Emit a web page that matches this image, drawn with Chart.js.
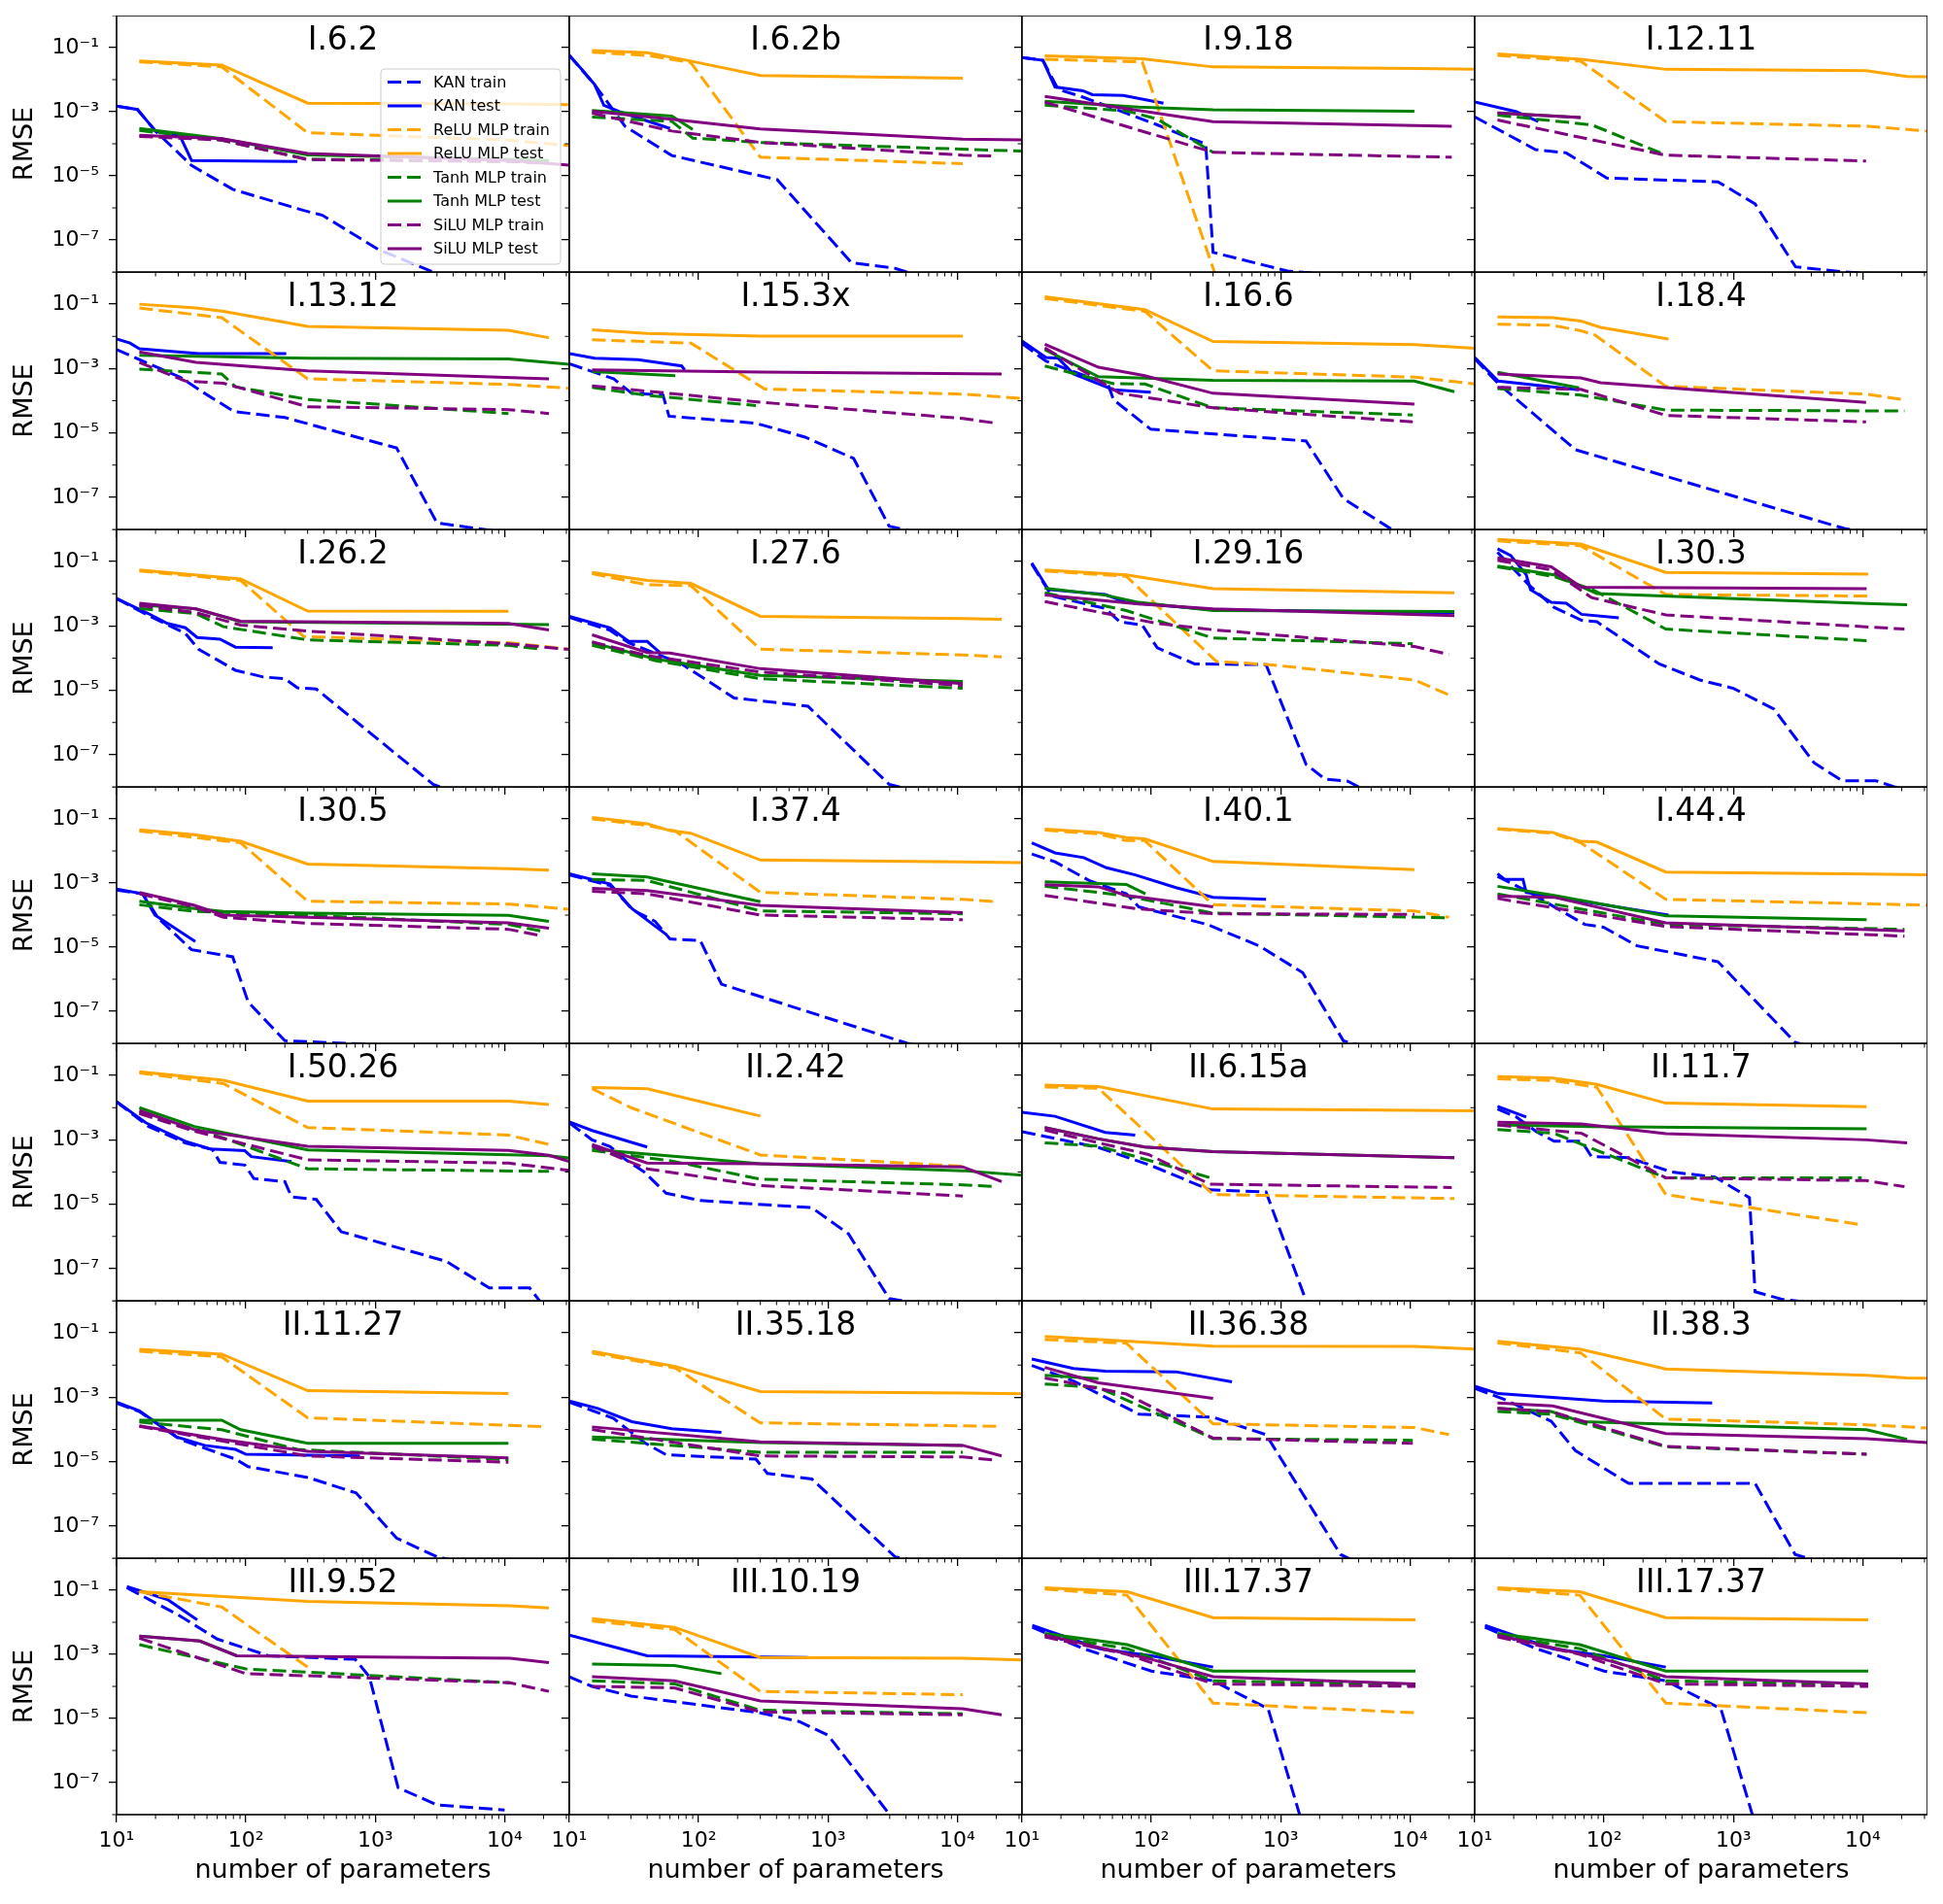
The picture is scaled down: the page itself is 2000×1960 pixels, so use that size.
<!DOCTYPE html>
<html lang="en">
<head>
<meta charset="UTF-8" />
<title>RMSE vs number of parameters</title>
<script src="https://cdn.jsdelivr.net/npm/chart.js"></script>
<style>
  body { margin: 0; background: #ffffff; }
  #wrap { position: relative; width: 2000px; height: 1960px; }
  #wrap canvas { position: absolute; }
</style>
</head>
<body>
<div id="wrap"></div>
<script>
// panel titles, row by row
const titles = [
  "I.6.2", "I.6.2b", "I.9.18", "I.12.11",
  "I.13.12", "I.15.3x", "I.16.6", "I.18.4",
  "I.26.2", "I.27.6", "I.29.16", "I.30.3",
  "I.30.5", "I.37.4", "I.40.1", "I.44.4",
  "I.50.26", "II.2.42", "II.6.15a", "II.11.7",
  "II.11.27", "II.35.18", "II.36.38", "II.38.3",
  "III.9.52", "III.10.19", "III.17.37", "III.17.37"
];

// each series: one list of [parameters, RMSE] per panel
const kanTrain = [
  [[10,1.5e-3],[14.5,1.17e-3],[20,2.5e-4],[38,2.1e-5],[79,3.8e-6],[280,8.3e-7],[390,5.9e-7],[1050,5.1e-8],[2800,1e-8],[5000,3e-9]],
  [[10,5.7e-2],[15.7,7e-3],[27,3.5e-4],[62,4.3e-5],[405,7.6e-6],[1520,1.95e-8],[3300,1.3e-8],[6000,6e-9]],
  [[10,4.9e-2],[14.5,4e-2],[19,5e-3],[30,2.8e-3],[111,3.9e-4],[193,1.55e-4],[263,1e-4],[300,4.1e-8],[1130,1.07e-8],[3000,8e-9]],
  [[10,6.9e-4],[29.5,6.6e-5],[51,5.2e-5],[105,8.5e-6],[760,6.5e-6],[1470,1.33e-6],[3020,1.45e-8],[7300,1e-8],[3e4,7e-9]],
  [[10,3.9e-3],[15.9,1.7e-3],[31,5.4e-4],[48,1.7e-4],[81,4.6e-5],[200,3e-5],[1460,3.4e-6],[3000,1.6e-8],[6900,1e-8],[2e4,6e-9]],
  [[10,1.4e-3],[22,4.8e-4],[30.4,1.7e-4],[53,1.5e-4],[59,3.3e-5],[277,2e-5],[665,7.4e-6],[1580,1.6e-6],[2970,1.26e-8],[5000,8e-9]],
  [[10,6e-3],[15.3,1.7e-3],[24,8.5e-4],[46,3.4e-4],[51,1.07e-4],[99,1.3e-5],[1570,5.6e-6],[3050,9.1e-8],[6950,1.1e-8],[1.2e4,6e-9]],
  [[10,2e-3],[15.2,3.4e-4],[60,3e-6],[7300,1.05e-8],[1.5e4,7e-9]],
  [[10,7.1e-3],[17.7,2.1e-3],[34,5.9e-4],[43,1.9e-4],[83,4.2e-5],[136,2.6e-5],[200,2.3e-5],[250,1.2e-5],[350,1.1e-5],[2800,1.2e-8],[4000,7e-9]],
  [[10,1.85e-3],[20.7,7.3e-4],[28.8,3e-4],[74,6.6e-5],[188,5.8e-6],[700,3.2e-6],[2970,1.2e-8],[5000,7e-9]],
  [[11.9,8.3e-2],[17,8.5e-3],[44,3.5e-3],[57,1.35e-3],[85,1.07e-3],[111,2.1e-4],[216,6.6e-5],[770,6.3e-5],[1570,5e-8],[2200,1.75e-8],[3300,1.5e-8],[4000,1e-8],[6000,7e-9]],
  [[15,0.195],[26,1.95e-2],[41,3.8e-3],[67,1.5e-3],[88,1.35e-3],[130,4.7e-4],[267,6.6e-5],[550,2.1e-5],[1000,1.15e-5],[2060,2.6e-6],[4200,5.6e-8],[6900,1.55e-8],[1.26e4,1.55e-8],[1.75e4,1e-8],[3e4,7e-9]],
  [[10,6e-4],[15.9,4.6e-4],[21,8e-5],[38,8.3e-6],[79,5e-6],[104,1.95e-7],[200,1.2e-8],[600,1e-8],[2000,8e-9]],
  [[10,1.8e-3],[20.7,8.3e-4],[31,1.45e-4],[46,6.4e-5],[60,1.8e-5],[103,1.6e-5],[150,7e-7],[4100,1e-8],[8000,6e-9]],
  [[11.9,8e-3],[18,4.6e-3],[33,1.2e-3],[64,4.6e-4],[80,1.8e-4],[270,5.1e-5],[680,1.1e-5],[1480,1.6e-6],[3050,1.2e-8],[5000,7e-9]],
  [[15,1.6e-3],[25,5.8e-4],[71,5.1e-5],[99,4.2e-5],[180,1.1e-5],[760,3.5e-6],[3000,1.07e-8],[5000,6e-9]],
  [[10,1.5e-2],[17.7,2.6e-3],[34,8e-4],[55,5e-4],[63,2e-4],[98,1.65e-4],[115,6.3e-5],[200,5e-5],[225,1.7e-5],[350,1.4e-5],[545,1.4e-6],[3500,1.7e-7],[3700,1.5e-7],[7600,2.5e-8],[1.56e4,2.5e-8],[1.9e4,9e-9]],
  [[10,3.4e-3],[15,1e-3],[20.7,6.2e-4],[27,2.5e-4],[38,1e-4],[56,2.2e-5],[103,1.3e-5],[750,7.8e-6],[1440,1.2e-6],[2970,1.17e-8],[8000,6e-9]],
  [[10,1.8e-3],[39,5.8e-4],[99,1.6e-4],[283,2.8e-5],[770,2.4e-5],[1570,1e-8]],
  [[15,9.1e-3],[21,5.1e-3],[30,1.8e-3],[41,9.1e-4],[67,9.1e-4],[80,3e-4],[155,2.8e-4],[333,1e-4],[720,7e-5],[1330,1.6e-5],[1470,1.9e-8],[2400,1.1e-8],[5000,8e-9]],
  [[10,6.6e-4],[15,3.6e-4],[31,4.9e-5],[83,1.2e-5],[104,7e-6],[302,3.2e-6],[710,1.07e-6],[1460,4.2e-8],[3000,1.1e-8],[5000,7e-9]],
  [[10,7.1e-4],[22,2.2e-4],[38,3.9e-5],[56,1.65e-5],[277,1.2e-5],[340,4.3e-6],[750,2.9e-6],[3300,1.1e-8],[6000,7e-9]],
  [[11.9,9.8e-3],[25,3.2e-3],[80,3e-4],[300,2.4e-4],[770,6.9e-5],[2900,1.3e-8],[4000,7e-9]],
  [[10,1.9e-3],[16.6,8.9e-4],[39,1.8e-4],[60,2.2e-5],[155,2.1e-6],[1470,2.1e-6],[3000,1.3e-8],[5000,7e-9]],
  [[12,0.12],[20,4e-2],[30,1.7e-2],[60,3e-3],[150,9e-4],[700,7e-4],[900,2e-4],[1500,7e-8],[3000,2e-8],[1e4,1.4e-8]],
  [[10,2e-4],[15,1e-4],[30,5e-5],[300,1.5e-5],[600,8e-6],[1000,3e-6],[3000,1e-8]],
  [[12,7e-3],[30,1.5e-3],[100,3e-4],[300,1.5e-4],[800,2e-5],[1400,1e-8]],
  [[12,7e-3],[30,1.5e-3],[100,3e-4],[300,1.5e-4],[800,2e-5],[1400,1e-8]]
];
const kanTest = [
  [[10,1.5e-3],[14.5,1.17e-3],[20,2.5e-4],[31,1.7e-4],[38,3e-5],[250,2.8e-5]],
  [[10,5.7e-2],[12.6,2e-2],[15.7,7e-3],[18.5,1.6e-3],[24.4,1e-3],[60,3e-4]],
  [[10,4.9e-2],[14.5,4e-2],[18,5.9e-3],[29.6,4.5e-3],[35,3.4e-3],[60.6,3.2e-3],[124,1.85e-3]],
  [[10,2e-3],[21,1e-3],[31,4.9e-4]],
  [[10,8.3e-3],[12.7,6.2e-3],[15,4.1e-3],[43,2.9e-3],[205,2.9e-3]],
  [[10,2.9e-3],[15.7,2.1e-3],[34,1.9e-3],[74,1.2e-3],[78,9e-4]],
  [[10,7.2e-3],[15.3,2.2e-3],[19,2.1e-3],[25,6.8e-4],[51,2.2e-4],[99,1.85e-4]],
  [[10,2.2e-3],[15.2,4.1e-4],[64,2.2e-4]],
  [[10,7.1e-3],[17.7,2.4e-3],[24.7,1.2e-3],[34,8.8e-4],[42,4.4e-4],[63,3.9e-4],[83,2.2e-4],[161,2.1e-4]],
  [[10,2e-3],[14,1.35e-3],[20.7,8.7e-4],[28.8,3.3e-4],[40,3.3e-4],[50,1.5e-4]],
  [[11.9,9.1e-2],[16,1.35e-2],[44,9.5e-3],[64,5.4e-3],[300,3.2e-3],[2.2e4,2.6e-3]],
  [[15,0.25],[19,0.155],[25,3.9e-2],[27,1.35e-2],[39,5.4e-3],[51,5.1e-3],[67,2.3e-3],[130,1.8e-3]],
  [[10,6.5e-4],[15.9,4.6e-4],[19.8,1e-4],[40.6,1.5e-5]],
  [[10,1.95e-3],[20.7,9.3e-4],[30.4,1.6e-4],[56,2.5e-5]],
  [[11.9,1.8e-2],[18,8.7e-3],[30,6.2e-3],[45,3e-3],[75,1.8e-3],[155,7.2e-4],[300,3.6e-4],[770,3.1e-4]],
  [[15,1.95e-3],[17,1.3e-3],[23.6,1.3e-3],[25,5.1e-4],[315,1e-4]],
  [[10,1.55e-2],[16.8,3.4e-3],[34,9e-4],[53,5.2e-4],[98,4.6e-4],[110,3e-4],[225,2.1e-4]],
  [[10,3.6e-3],[15,1.95e-3],[40,6e-4]],
  [[10,7.2e-3],[18,5.4e-3],[44,1.7e-3],[75,1.4e-3]],
  [[15,1.1e-2],[25,5.1e-3]],
  [[10,7.1e-4],[15,3.8e-4],[29,5.9e-5],[48,3.2e-5],[83,2.4e-5],[100,1.7e-5],[760,1.5e-5]],
  [[10,7.6e-4],[16.6,4.5e-4],[30.4,1.75e-4],[62,1.05e-4],[150,8.1e-5]],
  [[11.9,1.55e-2],[25,7.8e-3],[44,6.5e-3],[155,6.2e-3],[420,3e-3]],
  [[10,2.2e-3],[15.2,1.3e-3],[98,7.6e-4],[685,6.7e-4]],
  [[12,0.13],[25,5e-2],[42,1.2e-2]],
  [[10,4e-3],[25,1.5e-3],[40,9e-4],[700,8e-4]],
  [[12,8e-3],[40,1.5e-3],[100,9e-4],[300,4e-4]],
  [[12,8e-3],[40,1.5e-3],[100,9e-4],[300,4e-4]]
];
const reluTrain = [
  [[15,3.6e-2],[65,2.5e-2],[300,2.2e-4],[1.1e4,1.3e-4],[4e4,8e-5]],
  [[15,7.2e-2],[40,5.7e-2],[87,3.4e-2],[300,3.8e-5],[1.1e4,2.4e-5]],
  [[15,4.3e-2],[85,3.6e-2],[310,9e-9]],
  [[15,5.7e-2],[66,3.75e-2],[300,4.9e-4],[1.1e4,3.5e-4],[2.2e4,2.8e-4],[4e4,2.3e-4]],
  [[15,7.6e-2],[65,3.8e-2],[300,4.8e-4],[1.1e4,3.2e-4],[4e4,2.3e-4]],
  [[15,7.8e-3],[87,6.2e-3],[325,2.3e-4],[1.1e4,1.6e-4],[4e4,1.1e-4]],
  [[15,0.15],[89,6e-2],[300,8.5e-4],[1.1e4,5.4e-4],[4e4,3e-4]],
  [[15,2.4e-2],[40,2.2e-2],[66,1.5e-2],[85,1.1e-2],[300,2.8e-4],[1.07e4,1.6e-4],[2.1e4,1.07e-4]],
  [[15,5.1e-2],[91,2.6e-2],[280,4.7e-4],[1.1e4,3e-4],[4e4,1.7e-4]],
  [[15,4.2e-2],[40,1.9e-2],[87,1.8e-2],[300,1.9e-4],[1.1e4,1.26e-4],[2.2e4,1.1e-4]],
  [[15,5.1e-2],[64,3.5e-2],[318,7.9e-5],[811,6.3e-5],[1.08e4,2.1e-5],[2e4,7.2e-6]],
  [[15,0.44],[66,0.31],[300,9.5e-3],[1.1e4,8.5e-3]],
  [[15,4.2e-2],[91,1.8e-2],[300,2.7e-4],[1.1e4,2.2e-4],[4e4,1.4e-4]],
  [[15,0.1],[40,6.3e-2],[66,4.2e-2],[300,5.1e-4],[1.1e4,3.1e-4],[2e4,2.6e-4]],
  [[15,4.5e-2],[39,3.4e-2],[64,2.1e-2],[89,2.1e-2],[300,2.1e-4],[1.08e4,1.35e-4],[2e4,8.5e-5]],
  [[15,4.8e-2],[40,3.6e-2],[66,1.8e-2],[300,3.1e-4],[4e4,2e-4]],
  [[15,0.12],[67,5.6e-2],[300,2.4e-3],[1.07e4,1.4e-3],[2.2e4,7.2e-4]],
  [[15,3.9e-2],[30,1e-2],[300,3.4e-4],[1.1e4,1.5e-4]],
  [[15,4.4e-2],[39,4e-2],[300,2e-5],[2.2e4,1.5e-5]],
  [[15,7.9e-2],[40,7e-2],[88,4.3e-2],[300,2e-5],[9800,2.3e-6]],
  [[15,2.7e-2],[65,1.8e-2],[300,2.3e-4],[2e4,1.23e-4]],
  [[15,2.4e-2],[66,8.1e-3],[300,1.6e-4],[1.1e4,1.3e-4],[2e4,1.25e-4]],
  [[15,6.2e-2],[64,4.8e-2],[300,1.5e-4],[1.08e4,1.15e-4],[2e4,6.9e-5]],
  [[15,4.9e-2],[66,2.4e-2],[300,2.1e-4],[1.07e4,1.4e-4],[4e4,1.05e-4]],
  [[15,9e-2],[65,3e-2],[300,4e-4]],
  [[15,1.1e-2],[65,6e-3],[300,7e-5],[1.1e4,5.5e-5]],
  [[15,0.11],[65,7e-2],[300,3e-5],[1.1e4,1.5e-5]],
  [[15,0.11],[65,7e-2],[300,3e-5],[1.1e4,1.5e-5]]
];
const reluTest = [
  [[15,3.85e-2],[65,2.85e-2],[300,1.85e-3],[1.1e4,1.75e-3],[4e4,1.65e-3]],
  [[15,8.1e-2],[40,6.9e-2],[87,3.8e-2],[300,1.35e-2],[1.1e4,1.12e-2]],
  [[15,5.5e-2],[85,4.5e-2],[300,2.5e-2],[1.1e4,2.25e-2],[4e4,2.1e-2]],
  [[15,6.4e-2],[66,4.3e-2],[300,2.1e-2],[1.06e4,1.9e-2],[2.2e4,1.26e-2],[4e4,1.2e-2]],
  [[15,0.1],[41,7.6e-2],[67,6e-2],[300,2.05e-2],[1.07e4,1.55e-2],[2.2e4,9.1e-3]],
  [[15,1.6e-2],[40,1.23e-2],[300,1.02e-2],[1.1e4,1.02e-2]],
  [[15,0.17],[89,6.8e-2],[300,6.9e-3],[1.08e4,5.5e-3],[4e4,4e-3]],
  [[15,4e-2],[40,3.8e-2],[66,3e-2],[94,1.9e-2],[315,8.3e-3]],
  [[15,5.5e-2],[91,2.9e-2],[300,2.9e-3],[1.07e4,2.85e-3]],
  [[15,4.6e-2],[40,2.6e-2],[87,2.1e-2],[300,2e-3],[1.1e4,1.7e-3],[2.2e4,1.6e-3]],
  [[15,5.5e-2],[64,3.9e-2],[300,1.45e-2],[2.2e4,1.07e-2]],
  [[15,0.49],[66,0.35],[300,4.6e-2],[1.1e4,4.1e-2]],
  [[15,4.6e-2],[40,3.2e-2],[91,2e-2],[300,3.9e-3],[1.07e4,2.8e-3],[2.2e4,2.5e-3]],
  [[15,0.112],[40,7.1e-2],[60,4.3e-2],[87,3.6e-2],[300,5.2e-3],[1.1e4,4.6e-3],[4e4,4.3e-3]],
  [[15,4.8e-2],[39,3.8e-2],[64,2.6e-2],[89,2.4e-2],[300,4.7e-3],[1.08e4,2.6e-3]],
  [[15,5e-2],[40,3.8e-2],[66,2e-2],[88,1.9e-2],[300,2.2e-3],[1.1e4,1.9e-3],[4e4,1.8e-3]],
  [[15,0.13],[67,7.1e-2],[300,1.6e-2],[1.07e4,1.6e-2],[2.2e4,1.25e-2]],
  [[15,4.2e-2],[40,3.9e-2],[300,5.5e-3]],
  [[15,5e-2],[39,4.5e-2],[300,9.1e-3],[1.1e4,8.3e-3],[4e4,7.9e-3]],
  [[15,9.3e-2],[40,8.3e-2],[88,5.3e-2],[300,1.38e-2],[1.07e4,1.07e-2]],
  [[15,3.1e-2],[65,2.2e-2],[300,1.6e-3],[1.07e4,1.3e-3]],
  [[15,2.7e-2],[66,9.1e-3],[300,1.5e-3],[1.1e4,1.35e-3],[4e4,1.26e-3]],
  [[15,7.8e-2],[300,3.9e-2],[1.08e4,3.8e-2],[4e4,3e-2]],
  [[15,5.5e-2],[66,3.1e-2],[300,7.6e-3],[1.07e4,4.8e-3],[2.2e4,4e-3],[4e4,3.9e-3]],
  [[15,9e-2],[300,4.5e-2],[1.1e4,3.3e-2],[2.2e4,2.8e-2]],
  [[15,1.3e-2],[65,7e-3],[300,8e-4],[1.1e4,7.5e-4],[4e4,6.5e-4]],
  [[15,0.12],[65,9e-2],[300,1.4e-2],[1.1e4,1.2e-2]],
  [[15,0.12],[65,9e-2],[300,1.4e-2],[1.1e4,1.2e-2]]
];
const tanhTrain = [
  [[15,2.6e-4],[65,1.3e-4],[300,3.3e-5],[1.1e4,2.8e-5],[2.2e4,2.6e-5]],
  [[15,6.8e-4],[62,5e-4],[90,1.5e-4],[300,1.1e-4],[4e4,5.7e-5]],
  [[15,1.6e-3],[65,1.05e-3],[110,6e-4],[300,5.4e-5]],
  [[15,7.8e-4],[80,3.9e-4],[300,4.5e-5]],
  [[15,9.6e-4],[65,6.8e-4],[83,2.7e-4],[300,1.1e-4],[1.07e4,4e-5]],
  [[15,2.6e-4],[38,1.5e-4],[277,7.1e-5]],
  [[15,1.2e-3],[51,3.4e-4],[89,3.3e-4],[300,6e-5],[1.05e4,3.6e-5]],
  [[15,2.4e-4],[66,1.5e-4],[300,5.1e-5],[2.1e4,4.8e-5]],
  [[15,3.5e-3],[41,2.4e-3],[67,9.5e-4],[300,3.7e-4],[1.07e4,2.5e-4],[1.9e4,1.9e-4]],
  [[15,2.5e-4],[47,8.3e-5],[300,2.3e-5],[1.1e4,1.15e-5]],
  [[15,1.07e-2],[64,3e-3],[300,4.2e-4],[1.05e4,2.8e-4]],
  [[15,6.9e-2],[41,3.4e-2],[80,1.4e-2],[300,8e-4],[1.07e4,3.5e-4]],
  [[15,2.1e-4],[40,1.3e-4],[300,1e-4],[1.07e4,5.1e-5],[1.9e4,3.2e-5]],
  [[15,1.3e-3],[40,1.2e-3],[300,1.35e-4],[1.1e4,1.1e-4]],
  [[15,7.9e-4],[64,4e-4],[300,1.15e-4],[2e4,8.2e-5]],
  [[15,4.6e-4],[300,5.1e-5],[2.1e4,3.6e-5]],
  [[15,7.1e-3],[67,1.15e-3],[300,1.26e-4],[2.2e4,1.05e-4]],
  [[15,4.7e-4],[62,2.2e-4],[300,6e-5],[1.1e4,4e-5],[2e4,3.5e-5]],
  [[15,8.1e-4],[39,6.4e-4],[300,6.3e-5]],
  [[15,2.1e-3],[41,1.6e-3],[300,6.6e-5],[9800,6.6e-5]],
  [[15,1.7e-4],[65,9.8e-5],[250,2.4e-5],[1.07e4,1.15e-5]],
  [[15,5e-5],[300,1.95e-5],[1.1e4,1.95e-5]],
  [[15,2.6e-3],[39,2e-3],[300,5.2e-5],[1.05e4,4.6e-5]],
  [[15,3.6e-4],[39,3e-4],[300,2.9e-5],[1.07e4,1.7e-5]],
  [[15,2e-3],[100,3.5e-4],[1.1e4,1.3e-4]],
  [[15,1.5e-4],[65,1.2e-4],[300,1.8e-5],[1.1e4,1.4e-5]],
  [[15,4e-3],[65,1.5e-3],[300,1.5e-4],[1.1e4,1.1e-4]],
  [[15,4e-3],[65,1.5e-3],[300,1.5e-4],[1.1e4,1.1e-4]]
];
const tanhTest = [
  [[15,3e-4],[65,1.45e-4],[300,4.5e-5],[1.1e4,3.3e-5],[2.2e4,3e-5]],
  [[15,1.1e-3],[62,7.3e-4],[90,2.8e-4]],
  [[15,2.1e-3],[80,1.4e-3],[300,1.15e-3],[1.08e4,1.03e-3]],
  [[15,9.2e-4],[66,6.6e-4]],
  [[15,2.6e-3],[300,2.1e-3],[1.07e4,2e-3],[4e4,1.25e-3]],
  [[15,8.1e-4],[66,6e-4]],
  [[15,3.9e-3],[39,5.6e-4],[300,4.3e-4],[1.08e4,4.1e-4],[2.2e4,1.9e-4]],
  [[15,7.6e-4],[64,2.5e-4]],
  [[15,4.5e-3],[41,3.4e-3],[91,1.35e-3],[2.2e4,1.1e-3]],
  [[15,3e-4],[47,9.3e-5],[300,2.9e-5],[1.1e4,1.9e-5]],
  [[15,1.5e-2],[44,9.1e-3],[80,5.4e-3],[300,3e-3],[2.2e4,2.8e-3]],
  [[15,7.2e-2],[41,3.9e-2],[88,1.02e-2],[1.07e4,5e-3],[2.2e4,4.6e-3]],
  [[15,2.7e-4],[40,1.6e-4],[67,1.3e-4],[300,1.15e-4],[1.07e4,9.8e-5],[2.2e4,6.4e-5]],
  [[15,1.95e-3],[40,1.55e-3],[300,2.6e-4]],
  [[15,1.1e-3],[64,9e-4],[90,4.6e-4]],
  [[15,7.9e-4],[41,4.1e-4],[300,9.5e-5],[1.07e4,7.2e-5]],
  [[15,1e-2],[40,2.6e-3],[300,4.9e-4],[2.2e4,3.2e-4],[4e4,2.5e-4]],
  [[15,5.1e-4],[40,3.6e-4],[87,2.8e-4],[300,1.8e-4],[1.1e4,1.1e-4],[4e4,7.5e-5]],
  [[15,2.4e-3],[39,1.07e-3],[89,6e-4],[300,4.3e-4],[2.2e4,2.8e-4]],
  [[15,2.9e-3],[80,2.6e-3],[1.07e4,2.2e-3]],
  [[15,1.95e-4],[65,1.95e-4],[91,9.8e-5],[300,3.7e-5],[1.07e4,3.7e-5]],
  [[15,5.8e-5],[300,3.9e-5],[1.1e4,3.2e-5]],
  [[15,4.8e-3],[39,3.8e-3]],
  [[15,4.5e-4],[39,3.6e-4],[67,1.75e-4],[1.07e4,9.8e-5],[2.2e4,4.9e-5]],
  [[15,3.7e-3],[44,2.6e-3],[85,9e-4]],
  [[15,5e-4],[65,4.5e-4],[150,2.5e-4]],
  [[15,4.5e-3],[65,2e-3],[300,3e-4],[1.1e4,3e-4]],
  [[15,4.5e-3],[65,2e-3],[300,3e-4],[1.1e4,3e-4]]
];
const siluTrain = [
  [[15,1.7e-4],[65,1.3e-4],[300,3.2e-5],[1.1e4,2.8e-5],[2.2e4,2.5e-5]],
  [[15,9e-4],[62,2.5e-4],[300,1.1e-4],[1.1e4,4.4e-5],[2e4,4.1e-5]],
  [[15,2e-3],[300,5.4e-5],[1.1e4,4e-5],[2.1e4,3.8e-5]],
  [[15,5.5e-4],[300,4.4e-5],[1.06e4,2.9e-5]],
  [[15,1.55e-3],[34,4.1e-4],[67,3.5e-4],[300,6.5e-5],[1.07e4,5.3e-5],[2.2e4,4e-5]],
  [[15,2.9e-4],[300,9e-5],[1.1e4,2.8e-5],[2e4,2e-5]],
  [[15,4.4e-3],[57,1.7e-4],[300,6e-5],[1.05e4,2.2e-5]],
  [[15,2.6e-4],[66,2.25e-4],[300,3.5e-5],[1.06e4,2.2e-5]],
  [[15,4.3e-3],[41,2.6e-3],[91,1.07e-3],[300,6.9e-4],[1.07e4,2.8e-4],[4e4,1.7e-4]],
  [[15,3.2e-4],[40,1.2e-4],[300,3.7e-5],[1.1e4,1.4e-5]],
  [[15,5.7e-3],[111,1.2e-3],[300,7.6e-4],[1.08e4,2.3e-4],[2e4,1.3e-4]],
  [[15,0.11],[39,5.5e-2],[80,7.6e-3],[300,2.2e-3],[2.1e4,8e-4]],
  [[15,4.6e-4],[40,1.8e-4],[67,8.5e-5],[300,5.5e-5],[1.07e4,3.6e-5],[1.9e4,2.3e-5]],
  [[15,5.5e-4],[40,4.6e-4],[300,1e-4],[1.1e4,7.2e-5]],
  [[15,4.1e-4],[80,1.55e-4],[300,1.1e-4],[1.08e4,1.05e-4]],
  [[15,3.3e-4],[300,4.4e-5],[2.1e4,2.2e-5]],
  [[15,6.6e-3],[41,1.8e-3],[300,2.4e-4],[1.07e4,1.9e-4],[4e4,1e-4]],
  [[15,6.4e-4],[40,1.26e-4],[300,3.8e-5],[1.1e4,1.8e-5]],
  [[15,2e-3],[95,3.5e-4],[283,4.2e-5],[2.1e4,3.3e-5]],
  [[15,2.9e-3],[67,1.6e-3],[300,6.6e-5],[1.06e4,5.4e-5],[2.1e4,3.5e-5]],
  [[15,1.25e-4],[65,4.4e-5],[300,1.5e-5],[1.07e4,9.6e-6]],
  [[15,1e-4],[300,1.5e-5],[1.1e4,1.4e-5],[2e4,1.1e-5]],
  [[15,4e-3],[64,1.26e-3],[300,5.4e-5],[1.05e4,3.7e-5]],
  [[15,4.5e-4],[39,3.6e-4],[300,3e-5],[1.07e4,1.7e-5]],
  [[15,3.2e-3],[100,2.5e-4],[1.1e4,1.3e-4],[2.2e4,7e-5]],
  [[15,1e-4],[65,9e-5],[300,1.6e-5],[1.1e4,1.3e-5]],
  [[15,3.5e-3],[65,1e-3],[300,1.2e-4],[1.1e4,1e-4]],
  [[15,3.5e-3],[65,1e-3],[300,1.2e-4],[1.1e4,1e-4]]
];
const siluTest = [
  [[15,1.85e-4],[65,1.45e-4],[300,5e-5],[1.1e4,3e-5],[4e4,2e-5]],
  [[15,1.03e-3],[62,5.8e-4],[300,2.9e-4],[1.1e4,1.4e-4],[4e4,1.3e-4]],
  [[15,3e-3],[300,4.9e-4],[1.1e4,3.7e-4],[2.1e4,3.5e-4]],
  [[15,9.2e-4],[66,6.6e-4]],
  [[15,3.3e-3],[41,1.55e-3],[300,8.5e-4],[2.2e4,4.8e-4]],
  [[15,9.1e-4],[300,7.8e-4],[2.2e4,6.8e-4]],
  [[15,5.7e-3],[39,1.1e-3],[89,6e-4],[300,1.7e-4],[1.08e4,7.9e-5]],
  [[15,6.8e-4],[66,5.1e-4],[94,3.6e-4],[1.06e4,8.9e-5]],
  [[15,5.1e-3],[41,3.4e-3],[91,1.4e-3],[1.07e4,1.2e-3],[2.2e4,7.5e-4]],
  [[15,5.3e-4],[40,1.5e-4],[60,1.45e-4],[300,4.7e-5],[1.1e4,1.6e-5]],
  [[15,9.1e-3],[80,4.8e-3],[300,3.4e-3],[2.2e4,2.1e-3]],
  [[15,0.13],[39,6.9e-2],[67,1.6e-2],[1.07e4,1.45e-2]],
  [[15,5.1e-4],[40,2e-4],[67,1e-4],[300,8.5e-5],[1.07e4,5.7e-5],[2.2e4,3.9e-5]],
  [[15,6.8e-4],[40,5.8e-4],[300,2e-4],[1.1e4,1.2e-4]],
  [[15,8.9e-4],[39,7.6e-4],[64,4.1e-4],[300,1.8e-4]],
  [[15,3.9e-4],[41,3.6e-4],[300,5.7e-5],[2.1e4,3.2e-5]],
  [[15,8.1e-3],[41,2e-3],[300,6.3e-4],[1.07e4,4.7e-4],[2.2e4,3.3e-4],[4e4,1.6e-4]],
  [[15,7.2e-4],[40,1.9e-4],[300,1.8e-4],[1.1e4,1.45e-4],[2.2e4,5e-5]],
  [[15,2.4e-3],[39,1.07e-3],[89,6e-4],[300,4.3e-4],[2.2e4,2.8e-4]],
  [[15,3.5e-3],[67,3.1e-3],[300,1.55e-3],[1.07e4,1e-3],[2.2e4,8e-4]],
  [[15,1.3e-4],[65,4.9e-5],[300,2.1e-5],[1.07e4,1.3e-5]],
  [[15,1.2e-4],[300,4.1e-5],[1.1e4,3.2e-5],[2.2e4,1.5e-5]],
  [[15,8.5e-3],[39,2.8e-3],[300,9.3e-4]],
  [[15,6.6e-4],[40,5.4e-4],[300,7.4e-5],[1.07e4,5.2e-5],[4e4,3.7e-5]],
  [[15,3.7e-3],[44,2.6e-3],[85,9e-4],[1.1e4,7.5e-4],[2.2e4,5.5e-4]],
  [[15,2e-4],[65,1.5e-4],[300,3.5e-5],[1.1e4,2e-5],[2.2e4,1.3e-5]],
  [[15,4e-3],[100,7e-4],[300,2e-4],[1.1e4,1.2e-4]],
  [[15,4e-3],[100,7e-4],[300,2e-4],[1.1e4,1.2e-4]]
];

const xTicks = [10, 100, 1000, 10000];
const yTicks = [1e-7, 1e-5, 1e-3, 1e-1];
const yMinorTicks = [1e-8, 1e-6, 1e-4, 1e-2, 1];

const seriesDefs = [
  { label: "KAN train", data: kanTrain, color: "#0000ff", dash: [14, 6] },
  { label: "KAN test", data: kanTest, color: "#0000ff", dash: [] },
  { label: "ReLU MLP train", data: reluTrain, color: "#ffa500", dash: [14, 6] },
  { label: "ReLU MLP test", data: reluTest, color: "#ffa500", dash: [] },
  { label: "Tanh MLP train", data: tanhTrain, color: "#008000", dash: [14, 6] },
  { label: "Tanh MLP test", data: tanhTest, color: "#008000", dash: [] },
  { label: "SiLU MLP train", data: siluTrain, color: "#800080", dash: [14, 6] },
  { label: "SiLU MLP test", data: siluTest, color: "#800080", dash: [] },
];

// layout of the grid (page pixels)
const axisW = 120, axisH = 92, colW = 466, rowH = 264.7, top0 = 15.5;

const supMap = { "-": "\u207b", "0": "\u2070", "1": "\u00b9", "2": "\u00b2", "3": "\u00b3",
  "4": "\u2074", "5": "\u2075", "6": "\u2076", "7": "\u2077", "8": "\u2078", "9": "\u2079" };
function powLabel(v) {
  const k = Math.round(Math.log10(v));
  return "10" + String(k).split("").map((ch) => supMap[ch]).join("");
}

Chart.defaults.font.family = "'DejaVu Sans', sans-serif";
Chart.defaults.color = "#000";

function drawLegend(chart) {
  const { ctx, chartArea: a } = chart;
  const w = 185, h = 201;
  const bx = a.right - 9 - w, by = a.bottom - 8 - h;
  ctx.fillStyle = "rgba(255,255,255,0.8)";
  ctx.strokeStyle = "#cccccc";
  ctx.lineWidth = 1;
  ctx.beginPath();
  ctx.roundRect(bx, by, w, h, 4);
  ctx.fill();
  ctx.stroke();
  chart.data.datasets.forEach((ds, k) => {
    const cy = by + 13.5 + k * 24.5;
    ctx.strokeStyle = ds.borderColor;
    ctx.lineWidth = ds.borderWidth;
    ctx.setLineDash(ds.borderDash);
    ctx.beginPath();
    ctx.moveTo(bx + 7, cy);
    ctx.lineTo(bx + 42, cy);
    ctx.stroke();
    ctx.setLineDash([]);
    ctx.fillStyle = "#000";
    ctx.font = "16px 'DejaVu Sans'";
    ctx.textAlign = "left";
    ctx.textBaseline = "middle";
    ctx.fillText(ds.label, bx + 54, cy + 1);
  });
}

const decor = {
  id: "decor",
  afterDatasetsDraw(chart, args, opts) {
    const { ctx, chartArea: a, scales: { x, y } } = chart;
    ctx.save();
    ctx.strokeStyle = "#000";
    ctx.lineWidth = 1.6;
    ctx.setLineDash([]);
    ctx.strokeRect(a.left, a.top, a.right - a.left, a.bottom - a.top);
    // minor ticks
    ctx.lineWidth = 1;
    ctx.beginPath();
    for (let d = 10; d < 1e5; d *= 10) {
      for (let s = 2; s < 10; s++) {
        const v = d * s;
        if (v > x.max) break;
        const px = x.getPixelForValue(v);
        ctx.moveTo(px, a.bottom);
        ctx.lineTo(px, a.bottom + 4.5);
      }
    }
    yMinorTicks.forEach((v) => {
      const py = y.getPixelForValue(v);
      ctx.moveTo(a.left, py);
      ctx.lineTo(a.left - 4.5, py);
    });
    ctx.stroke();
    // panel title
    ctx.fillStyle = "#000";
    ctx.font = "33px 'DejaVu Sans'";
    ctx.textAlign = "center";
    ctx.textBaseline = "alphabetic";
    ctx.fillText(opts.title, (a.left + a.right) / 2, a.top + 34.5);
    if (opts.legend) drawLegend(chart);
    ctx.restore();
  },
};

const wrap = document.getElementById("wrap");

titles.forEach((title, i) => {
  const r = Math.floor(i / 4), c = i % 4;
  const y0 = Math.round(top0 + r * rowH);
  const y1 = Math.round(top0 + (r + 1) * rowH);
  const cv = document.createElement("canvas");
  cv.width = colW + axisW;
  cv.height = y1 - y0 + axisH;
  cv.style.left = c * colW + "px";
  cv.style.top = y0 + "px";
  wrap.appendChild(cv);

  const leftCol = c === 0, bottomRow = r === 6;

  new Chart(cv, {
    type: "line",
    data: {
      datasets: seriesDefs.map((s, k) => ({
        label: s.label,
        data: s.data[i].map(([px, rmse]) => ({ x: px, y: rmse })),
        borderColor: s.color,
        backgroundColor: s.color,
        borderWidth: 3,
        borderDash: s.dash,
        pointRadius: 0,
        tension: 0,
        fill: false,
        order: 7 - k,
      })),
    },
    options: {
      responsive: false,
      devicePixelRatio: 1,
      animation: false,
      events: [],
      layout: { padding: 0 },
      plugins: {
        legend: { display: false },
        tooltip: { enabled: false },
        decor: { title: title, legend: i === 0 },
      },
      scales: {
        x: {
          type: "logarithmic",
          min: 10,
          max: Math.pow(10, 4.5),
          afterBuildTicks: (s) => { s.ticks = xTicks.map((v) => ({ value: v })); },
          afterFit: (s) => {
            s.height = axisH;
            s.paddingLeft = 0; s.paddingRight = 0;
          },
          grid: { drawOnChartArea: false, drawTicks: true, tickLength: 8, color: "#000", lineWidth: 1.3 },
          border: { display: false },
          ticks: {
            display: bottomRow,
            autoSkip: false,
            maxRotation: 0,
            padding: 6,
            color: "#000",
            font: { size: 22 },
            callback: (v) => powLabel(v),
          },
          title: {
            display: bottomRow,
            text: "number of parameters",
            color: "#000",
            font: { size: 27 },
            padding: { top: 0, bottom: 18 },
          },
        },
        y: {
          type: "logarithmic",
          min: 1e-8,
          max: 1,
          afterBuildTicks: (s) => { s.ticks = yTicks.map((v) => ({ value: v })); },
          afterFit: (s) => {
            s.width = axisW;
            s.paddingTop = 0; s.paddingBottom = 0;
          },
          grid: { drawOnChartArea: false, drawTicks: true, tickLength: 8, color: "#000", lineWidth: 1.3 },
          border: { display: false },
          ticks: {
            display: leftCol,
            autoSkip: false,
            padding: 10,
            color: "#000",
            font: { size: 22 },
            callback: (v) => powLabel(v),
          },
          title: {
            display: leftCol,
            text: "RMSE",
            color: "#000",
            font: { size: 27 },
            padding: { top: 10, bottom: 0 },
          },
        },
      },
    },
    plugins: [decor],
  });
});
</script>
</body>
</html>
